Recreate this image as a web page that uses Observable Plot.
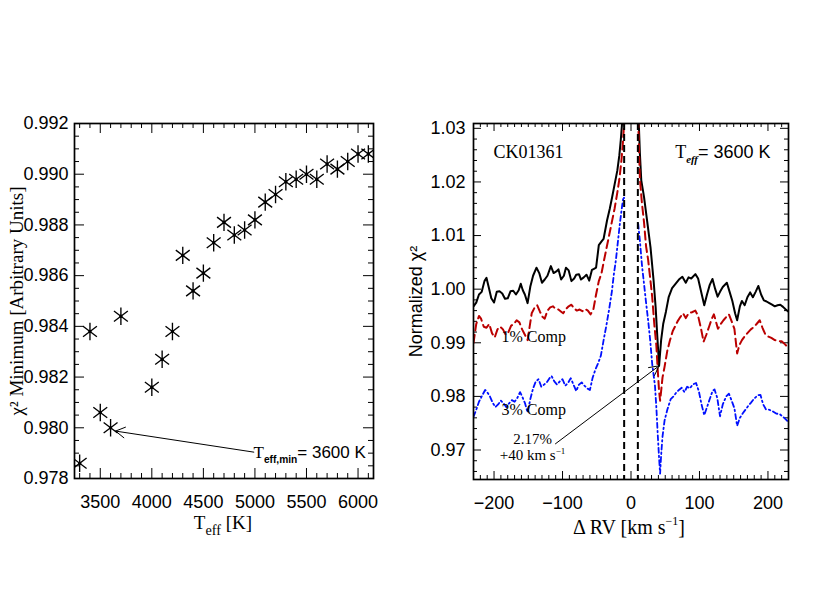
<!DOCTYPE html>
<html>
<head>
<meta charset="utf-8">
<script src="https://cdn.jsdelivr.net/npm/d3@7"></script>
<script src="https://cdn.jsdelivr.net/npm/@observablehq/plot@0.6"></script>
<style>
  html, body { margin: 0; padding: 0; background: #fff; }
  #wrap { position: relative; width: 830px; height: 600px; background: #fff; overflow: hidden; }
  #wrap > svg { position: absolute; top: 0; }
</style>
</head>
<body>
<div id="wrap"></div>
<script>
// ---------------- DATA ----------------
// Left panel: chi^2 minimum vs Teff
const teff = [3300,3400,3500,3600,3700,4000,4100,4200,4300,4400,4500,4600,4700,4800,4900,5000,5100,5200,5300,5400,5500,5600,5700,5800,5900,6000,6100];
const chiMin = [0.9786,0.9838,0.9806,0.9800,0.9844,0.9816,0.9827,0.9838,0.9868,0.9854,0.9861,0.9873,0.9881,0.9876,0.9878,0.9882,0.9889,0.9892,0.9897,0.9898,0.9900,0.9898,0.9904,0.9902,0.9905,0.9908,0.9908];

// Right panel: normalized chi^2 vs delta RV (gap = null)
const rvBest = [-230,-226,-222,-218,-214,-211,-208,-204,-200,-196,-192,-188,-184,-180,-176,-172,-168,-164,-161,-158,-155,-151,-147,-143,-138,-134,-130,-126,-122,-117,-113,-109,-106,-102,-98,-95,-91,-87,-83,-80,-76,-73,-69,-65,-61,-57,-54,-51,-47,-43,-40,-35,-31,-27.5,-24,-20,-17,-15,-13,-11,
  0,
  10.5,13,15,19,23.5,28.5,33,36,38.5,41,44,47,51,55,60,65,70,75,80,84,88,94,98,103,107,111,115,119,123,126.5,130,134,140,144,148,152,155,159,162,166,170,174,178,182,186,190,194,198,202,206,210,214,218,222,226,230];
const chiBest = [0.9968,0.9975,0.9990,0.9995,1.0015,1.0021,1.0005,0.9983,0.9975,0.9995,0.9996,0.9992,0.9982,0.9983,0.9996,0.9997,0.9990,0.9998,1.0010,0.9998,0.9990,0.9974,1.0005,1.0025,1.0040,1.0030,1.0012,1.0018,1.0025,1.0043,1.0030,1.0033,1.0037,1.0018,1.0025,1.0040,1.0035,1.0015,1.0020,1.0027,1.0028,1.0018,1.0022,1.0027,1.0016,1.0036,1.0038,1.0040,1.0082,1.0089,1.0094,1.0128,1.0150,1.0172,1.0195,1.0221,1.0250,1.0277,1.0310,1.0340,
  null,
  1.0340,1.0253,1.0203,1.0172,1.0128,1.0078,1.0016,0.9966,0.9910,0.9857,0.9905,0.9935,0.9958,0.9985,1.0002,1.0010,1.0018,1.0023,1.0012,1.0022,1.0020,1.0028,1.0020,0.9992,0.9970,0.9990,1.0008,1.0019,1.0000,0.9986,0.9995,1.0004,1.0012,0.9995,0.9978,0.9955,0.9942,0.9968,0.9978,0.9970,0.9985,0.9994,0.9985,0.9995,1.0006,0.9990,0.9979,0.9977,0.9974,0.9971,0.9968,0.9970,0.9971,0.9967,0.9962,0.9958];

const rv1 = [-230,-226,-222,-219,-215,-211,-207,-203,-199,-195,-191,-187,-183,-179,-175,-171,-167,-163,-159,-155,-151,-148,-145,-141,-137,-133,-129,-126,-122,-118,-114,-110,-106,-102,-99,-95,-91,-87,-83,-79,-75,-71,-67,-63,-59,-55,-51,-47,-43,-40,-36,-32,-28,-24,-20,-17,-14,-12,-10,-9,
  0,
  10,11.5,13,16,19,22,25,28.5,31,34,37,39,41,42.5,44,46,49,53,57,61,65,68,72,76,80,84,89,94,98,102,106,110,114,118,121,124,127,131,135,139,143,147,151,155,158,162,166,170,175,180,184,188,192,196,200,205,210,215,220,225,230];
const chi1 = [0.9900,0.9935,0.9950,0.9945,0.9930,0.9928,0.9935,0.9918,0.9910,0.9925,0.9930,0.9925,0.9915,0.9920,0.9932,0.9935,0.9942,0.9938,0.9925,0.9915,0.9905,0.9930,0.9955,0.9965,0.9970,0.9958,0.9948,0.9945,0.9960,0.9966,0.9968,0.9963,0.9962,0.9958,0.9955,0.9963,0.9968,0.9971,0.9964,0.9960,0.9962,0.9959,0.9963,0.9960,0.9953,0.9962,0.9990,1.0015,1.0030,1.0050,1.0075,1.0100,1.0125,1.0150,1.0180,1.0205,1.0240,1.0270,1.0310,1.0340,
  null,
  1.0340,1.0270,1.0205,1.0160,1.0125,1.0080,1.0055,1.0015,0.9985,0.9935,0.9895,0.9850,0.9810,0.9792,0.9810,0.9835,0.9855,0.9885,0.9905,0.9922,0.9932,0.9940,0.9948,0.9955,0.9946,0.9955,0.9957,0.9960,0.9950,0.9928,0.9902,0.9915,0.9930,0.9945,0.9953,0.9940,0.9926,0.9935,0.9942,0.9948,0.9953,0.9940,0.9926,0.9880,0.9895,0.9905,0.9912,0.9918,0.9925,0.9930,0.9936,0.9942,0.9928,0.9916,0.9912,0.9909,0.9905,0.9903,0.9903,0.9897,0.9890];

const rv3 = [-230,-226,-222,-218,-213,-210,-206,-202,-198,-194,-190,-186,-182,-178,-174,-170,-166,-162,-159,-155,-151,-147,-143,-139,-135,-131,-127,-123,-119,-116,-112,-108,-104,-100,-96,-92,-88,-84,-80,-76,-72,-68,-64,-60,-56,-52,-48,-44,-40,-36,-32,-28,-25,-22,-19,-16,-13,-11,-10,
  0,
  10.5,13,16,19,22,25,28,31,33,35,37,39,41,42.5,44,46,49,53,58,62,66,70,74,78,82,86,90,95,99,103,107,111,115,119,122,126,130,134,139,143,147,151,155,159,163,167,171,175,180,185,189,193,197,202,207,212,217,222,226,230];
const chi3 = [0.9762,0.9775,0.9790,0.9800,0.9812,0.9808,0.9800,0.9788,0.9780,0.9785,0.9792,0.9787,0.9780,0.9787,0.9793,0.9790,0.9797,0.9808,0.9800,0.9788,0.9770,0.9795,0.9815,0.9828,0.9832,0.9818,0.9822,0.9826,0.9834,0.9838,0.9828,0.9822,0.9828,0.9832,0.9820,0.9825,0.9834,0.9822,0.9810,0.9822,0.9826,0.9820,0.9815,0.9812,0.9835,0.9850,0.9862,0.9876,0.9905,0.9932,0.9962,0.9995,1.0028,1.0055,1.0090,1.0125,1.0155,1.0172,1.0170,
  null,
  1.0122,1.0090,1.0045,1.0010,0.9975,0.9942,0.9905,0.9860,0.9840,0.9820,0.9780,0.9730,0.9685,0.9656,0.9690,0.9725,0.9755,0.9775,0.9795,0.9800,0.9807,0.9812,0.9816,0.9808,0.9818,0.9815,0.9822,0.9825,0.9810,0.9785,0.9765,0.9780,0.9795,0.9810,0.9813,0.9797,0.9763,0.9785,0.9800,0.9805,0.9792,0.9778,0.9745,0.9760,0.9768,0.9775,0.9782,0.9788,0.9796,0.9802,0.9803,0.9785,0.9776,0.9775,0.9772,0.9768,0.9767,0.9762,0.9757,0.9752];

const rvWindow = [-10, 10];

// tick labels
const xTicksL = [3500, 4000, 4500, 5000, 5500, 6000];
const yTicksL = [0.978, 0.980, 0.982, 0.984, 0.986, 0.988, 0.990, 0.992];
const xTicksR = [-200, -100, 0, 100, 200];
const yTicksR = [0.97, 0.98, 0.99, 1.00, 1.01, 1.02, 1.03];

// annotations (data coordinates)
const arrowL = [{x1: 4989, y1: 0.97904, x2: 3648, y2: 0.97987}];
const arrowR = [{x1: -110.3, y1: 0.97116, x2: 41, y2: 0.9857}];

// ---------------- STYLE / LAYOUT ----------------
const serif = "'Liberation Serif', 'DejaVu Serif', serif";
const sans = "'Liberation Sans', 'DejaVu Sans', sans-serif";
const PW = 415, PH = 600;
const ML = {l: 74, r: 42, t: 123, b: 122};
const MR = {l: 58, r: 42, t: 123, b: 121};
const fwL = PW - ML.l - ML.r, fhL = PH - ML.t - ML.b;
const fwR = PW - MR.l - MR.r, fhR = PH - MR.t - MR.b;

const minorL_x = d3.range(3300, 6101, 100).filter(v => v % 500 !== 0);
const minorL_y = d3.range(0, 29).filter(i => i % 4 !== 0).map(i => 0.978 + i * 0.0005);
const minorR_x = d3.range(-230, 231, 10).filter(v => v % 100 !== 0);
const minorR_y = d3.range(966, 1031, 2).filter(k => k % 10 !== 0).map(k => k / 1000);

function frameTicks(vals, axis, len, fw, fh) {
  const o = {stroke: "black", strokeWidth: 1};
  if (axis === "x") return [
    Plot.tickX(vals, {x: d => d, insetTop: fh - len, ...o}),
    Plot.tickX(vals, {x: d => d, insetBottom: fh - len, ...o})
  ];
  return [
    Plot.tickY(vals, {y: d => d, insetRight: fw - len, ...o}),
    Plot.tickY(vals, {y: d => d, insetLeft: fw - len, ...o})
  ];
}

function label(text, o) {
  return Plot.text([text], {
    text: d => d, frameAnchor: o.anchor || "top-left", dx: o.dx || 0, dy: o.dy || 0,
    fontSize: o.fs || 18, fontFamily: o.family || serif, textAnchor: o.ta || "start",
    lineAnchor: o.la || "bottom", rotate: o.rotate || 0, fill: "black"
  });
}

// rich-text specs for subscripts / superscripts / line breaks
const RICH = {
  "Teff,min= 3600 K": [{t: "T", f: serif}, {t: "eff,min", sub: true, f: sans, w: "bold"}, {t: "= 3600 K", f: sans}],
  "Teff= 3600 K": [{t: "T", f: serif}, {t: "eff", sub: true, f: serif, st: "italic", w: "bold"}, {t: "= 3600 K", f: sans}],
  "Teff [K]": [{t: "T"}, {t: "eff", sub: true, k: 0.75}, {t: " [K]"}],
  "Δ RV [km s-1]": [{t: "Δ RV [km s"}, {t: "−1", sup: true}, {t: "]"}],
  "2.17% | +40 km s-1": [{t: "2.17%"}, {t: "+40 km s", br: 1.1}, {t: "−1", sup: true}]
};
function richify(svg) {
  d3.select(svg).selectAll("text").each(function () {
    const spec = RICH[this.textContent];
    if (!spec) return;
    const fs = parseFloat(getComputedStyle(this).fontSize) || 18;
    const sel = d3.select(this);
    sel.text(null);
    let off = 0;
    for (const s of spec) {
      const ts = sel.append("tspan").text(s.t);
      const target = s.sub ? 0.32 * fs : s.sup ? -0.42 * fs : 0;
      let d = target - off;
      if (s.br) { ts.attr("x", 0); d += s.br * fs; }
      if (d) ts.attr("dy", d);
      off = target;
      if (s.sub || s.sup) ts.attr("font-size", (s.k || 0.6) * fs);
      if (s.f) ts.attr("font-family", s.f);
      if (s.w) ts.attr("font-weight", s.w);
      if (s.st) ts.attr("font-style", s.st);
    }
  });
}

// asterisk symbol (IDL psym=2 style)
const asterisk = {
  draw(ctx, size) {
    const r = Math.sqrt(size / Math.PI);
    const a = 37 * Math.PI / 180, c = Math.cos(a) * r, s = Math.sin(a) * r;
    ctx.moveTo(0, -r); ctx.lineTo(0, r);
    ctx.moveTo(-c, -s); ctx.lineTo(c, s);
    ctx.moveTo(-c, s); ctx.lineTo(c, -s);
  }
};

const baseStyle = {fontFamily: sans, fontSize: "18px", background: "white", color: "black", overflow: "visible"};

// ---------------- LEFT PANEL ----------------
const left = Plot.plot({
  width: PW, height: PH,
  marginLeft: ML.l, marginRight: ML.r, marginTop: ML.t, marginBottom: ML.b,
  x: {domain: [3250, 6150]},
  y: {domain: [0.978, 0.992]},
  style: baseStyle,
  marks: [
    ...frameTicks(minorL_x, "x", 5, fwL, fhL),
    ...frameTicks(xTicksL, "x", 10, fwL, fhL),
    ...frameTicks(minorL_y, "y", 5, fwL, fhL),
    ...frameTicks(yTicksL, "y", 10, fwL, fhL),
    Plot.dot(teff, {x: teff, y: chiMin, symbol: asterisk, r: 8.7, fill: "none", stroke: "black", strokeWidth: 1.35, clip: true}),
    Plot.dot(teff, {x: teff, y: chiMin, r: 1.6, fill: "black", stroke: "none", clip: true}),
    Plot.arrow(arrowL, {x1: "x1", y1: "y1", x2: "x2", y2: "y2", headLength: 16, headAngle: 60, stroke: "black", strokeWidth: 1}),
    Plot.frame({stroke: "black", strokeWidth: 1.7}),
    Plot.axisX({ticks: xTicksL, tickSize: 0, tickPadding: 17, fontSize: 18, fontFamily: sans, tickFormat: d => String(d), label: null}),
    Plot.axisY({ticks: yTicksL, tickSize: 0, tickPadding: 6, fontSize: 18, fontFamily: sans, tickFormat: d3.format(".3f"), label: null}),
    label("Teff,min= 3600 K", {anchor: "top-left", dx: 179, dy: 334, fs: 17, family: sans}),
    label("Teff [K]", {anchor: "bottom", ta: "middle", dx: -1, dy: 50, fs: 19}),
    label("χ² Minimum [Arbitrary Units]", {anchor: "left", ta: "middle", la: "middle", rotate: -90, dx: -58, dy: 0, fs: 19})
  ]
});

// ---------------- RIGHT PANEL ----------------
const right = Plot.plot({
  width: PW, height: PH,
  marginLeft: MR.l, marginRight: MR.r, marginTop: MR.t, marginBottom: MR.b,
  x: {domain: [-230, 230]},
  y: {domain: [0.9645, 1.0309]},
  style: baseStyle,
  marks: [
    ...frameTicks(minorR_x, "x", 4, fwR, fhR),
    ...frameTicks(xTicksR, "x", 8, fwR, fhR),
    ...frameTicks(minorR_y, "y", 4, fwR, fhR),
    ...frameTicks(yTicksR, "y", 8, fwR, fhR),
    Plot.line(rvBest, {x: rvBest, y: chiBest, stroke: "black", strokeWidth: 2, clip: true}),
    Plot.line(rv1, {x: rv1, y: chi1, stroke: "#bb0000", strokeWidth: 2, strokeDasharray: "8,4.5", clip: true}),
    Plot.line(rv3, {x: rv3, y: chi3, stroke: "#0010ff", strokeWidth: 1.8, strokeDasharray: "5,3,1.5,3", clip: true}),
    Plot.ruleX(rvWindow, {stroke: "black", strokeWidth: 2, strokeDasharray: "7,4"}),
    Plot.arrow(arrowR, {x1: "x1", y1: "y1", x2: "x2", y2: "y2", headLength: 16, headAngle: 55, stroke: "black", strokeWidth: 1}),
    Plot.frame({stroke: "black", strokeWidth: 1.7}),
    Plot.axisX({ticks: xTicksR, tickSize: 0, tickPadding: 17, fontSize: 18, fontFamily: sans, tickFormat: d3.format("d"), label: null}),
    Plot.axisY({ticks: yTicksR, tickSize: 0, tickPadding: 8, fontSize: 18, fontFamily: sans, tickFormat: d3.format(".2f"), label: null}),
    label("CK01361", {anchor: "top-left", dx: 20, dy: 34, fs: 18}),
    label("Teff= 3600 K", {anchor: "top-right", ta: "end", dx: -18, dy: 34, fs: 18}),
    label("1% Comp", {anchor: "top-left", dx: 28, dy: 218, fs: 16}),
    label("3% Comp", {anchor: "top-left", dx: 28, dy: 291, fs: 16}),
    label("2.17% | +40 km s-1", {anchor: "top-left", ta: "middle", dx: 59, dy: 320, fs: 15}),
    label("Δ RV [km s-1]", {anchor: "bottom", ta: "middle", dx: -2, dy: 54, fs: 20}),
    label("Normalized χ²", {anchor: "left", ta: "middle", la: "middle", rotate: -90, dx: -57, dy: 0, fs: 18, family: sans})
  ]
});

const wrap = document.getElementById("wrap");
left.style.left = "0px";
right.style.left = PW + "px";
wrap.append(left, right);
richify(left);
richify(right);
</script>
</body>
</html>
